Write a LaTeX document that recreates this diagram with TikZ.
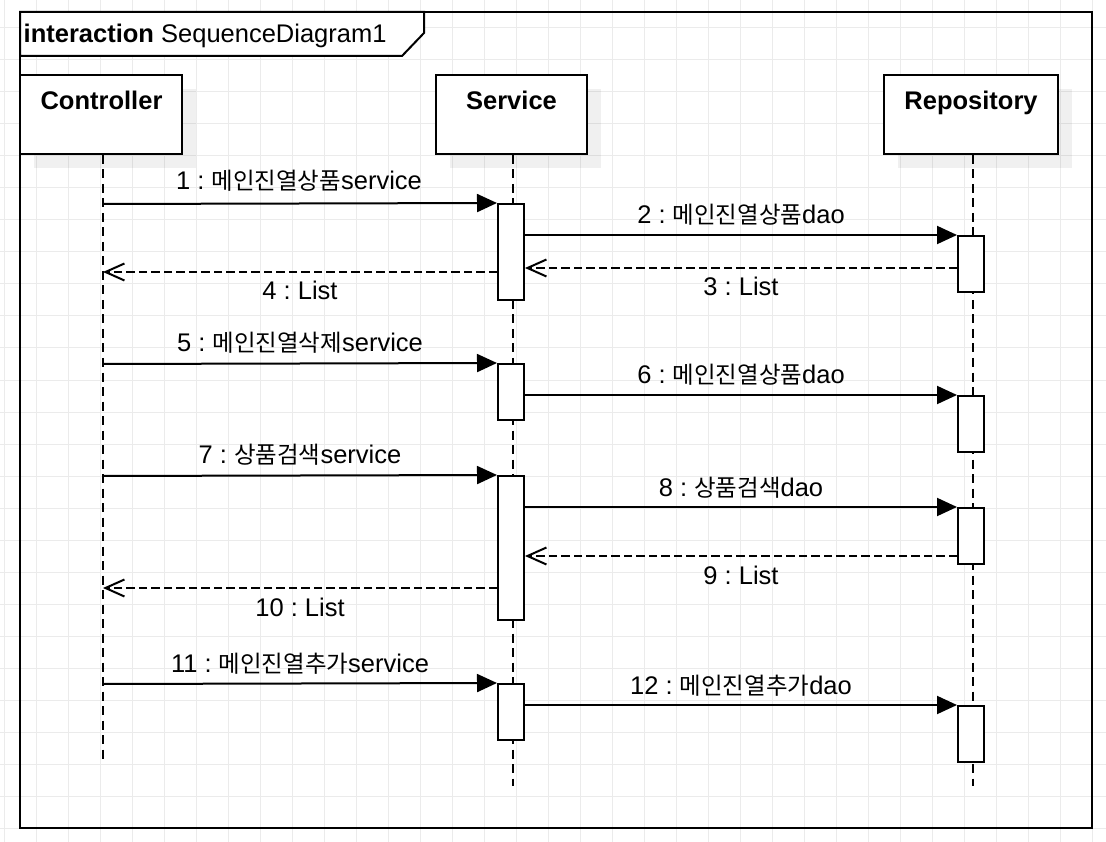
\documentclass[tikz,border=0pt]{standalone}
\usepackage{fontspec}
\setmainfont{Liberation Sans}
\newfontfamily\krfont[Scale=0.92]{Noto Sans CJK KR}
\newcommand{\kr}[1]{{\krfont #1}}
\usetikzlibrary{arrows.meta}
\definecolor{gridc}{RGB}{235,235,235}
\frenchspacing
\tikzset{
  gridline/.style={draw=gridc, line width=1pt},
  frameline/.style={draw=black, line width=2pt},
  headbox/.style={draw=black, line width=2pt, fill=white, rectangle, inner sep=0pt, minimum height=79pt},
  headtext/.style={font=\fontsize{25.5}{30}\selectfont\bfseries, inner sep=0pt, anchor=base},
  shadowbox/.style={fill=black, opacity=0.06},
  lifeline/.style={draw=black, line width=2pt, dash pattern=on 9pt off 5.5pt},
  actbox/.style={draw=black, line width=2pt, fill=white, rectangle, inner sep=0pt, minimum width=26pt},
  msg/.style={draw=black, line width=2pt, -{Triangle[length=20pt,width=18pt]}},
  ret/.style={draw=black, line width=2pt, dash pattern=on 8.5pt off 4pt, -{Straight Barb[length=19pt,width=17pt,line width=2pt]}},
  lbl/.style={font=\fontsize{25.5}{30}\selectfont, inner sep=0pt, anchor=base},
}
\begin{document}
\frenchspacing
\begin{tikzpicture}[x=1pt,y=-1pt]
\useasboundingbox (0,0) rectangle (1106,842);
\fill[white] (0,0) rectangle (1106,842);
% grid
\foreach \x in {4,36,...,1100} \draw[gridline] (\x,0) -- (\x,842);
\foreach \y in {28,60,...,840} \draw[gridline] (0,\y) -- (1106,\y);
% frame
\draw[frameline] (20,12) rectangle (1092,828);
\draw[frameline, fill=white] (20,12) -- (424,12) -- (424,33) -- (402,56) -- (20,56) -- cycle;
\node[anchor=base west, inner sep=0pt, font=\fontsize{25.5}{30}\selectfont] (title) at (23.5,42.5) {\textbf{interaction} SequenceDiagram1};
% shadows
\fill[shadowbox] (34,89) rectangle (196,168);
\fill[shadowbox] (450,89) rectangle (601,168);
\fill[shadowbox] (898,89) rectangle (1072,168);
% header boxes
\node[headbox, minimum width=162pt] (ctrl) at (101,114.5) {};
\node[headbox, minimum width=151pt] (svc) at (511.5,114.5) {};
\node[headbox, minimum width=174pt] (repo) at (971,114.5) {};
\node[headtext] (ctrlt) at (101.5,110) {Controller};
\node[headtext] (svct) at (511.5,110) {Service};
\node[headtext] (repot) at (971,110) {Repository};
% lifeline ends
\coordinate (ctrlend) at (103,762);
\coordinate (svcend) at (512.5,786);
\coordinate (repoend) at (973,786);
\draw[lifeline] (ctrl.south -| ctrlend) -- (ctrlend);
\draw[lifeline] (svc.south -| svcend) -- (svcend);
\draw[lifeline] (repo.south -| repoend) -- (repoend);
% activations
\node[actbox, minimum height=96pt] (a1) at (511,252) {};
\node[actbox, minimum height=56pt] (a2) at (511,392) {};
\node[actbox, minimum height=144pt] (a3) at (511,548) {};
\node[actbox, minimum height=56pt] (a4) at (511,712) {};
\node[actbox, minimum height=56pt] (r1) at (971,264) {};
\node[actbox, minimum height=56pt] (r2) at (971,424) {};
\node[actbox, minimum height=56pt] (r3) at (971,536) {};
\node[actbox, minimum height=56pt] (r4) at (971,734) {};
% message coordinates
\coordinate (c1) at (103,204);
\coordinate (c4) at (103,272);
\coordinate (c5) at (103,364);
\coordinate (c7) at (103,476);
\coordinate (c10) at (103,588);
\coordinate (c11) at (103,684);
\coordinate (y3) at (0,268);
\coordinate (y9) at (0,556);
% messages
\draw[msg] (c1) -- (a1.north west);
\draw[msg] (a1.east |- r1.north) -- (r1.north west);
\draw[ret] (r1.west |- y3) -- (a1.east |- y3);
\draw[ret] (a1.west |- c4) -- (c4);
\draw[msg] (c5) -- (a2.north west);
\draw[msg] (a2.east |- r2.north) -- (r2.north west);
\draw[msg] (c7) -- (a3.north west);
\draw[msg] (a3.east |- r3.north) -- (r3.north west);
\draw[ret] (r3.west |- y9) -- (a3.east |- y9);
\draw[ret] (a3.west |- c10) -- (c10);
\draw[msg] (c11) -- (a4.north west);
\draw[msg] (a4.east |- r4.north) -- (r4.north west);
% labels
\node[lbl] (l1) at (299,189.5) {1 : \kr{메인진열상품}service};
\node[lbl] (l2) at (741,224) {2 : \kr{메인진열상품}dao};
\node[lbl] (l3) at (741,296) {3 : List};
\node[lbl] (l4) at (300,300) {4 : List};
\node[lbl] (l5) at (300,352) {5 : \kr{메인진열삭제}service};
\node[lbl] (l6) at (741,384) {6 : \kr{메인진열상품}dao};
\node[lbl] (l7) at (300,463.5) {7 : \kr{상품검색}service};
\node[lbl] (l8) at (741,496) {8 : \kr{상품검색}dao};
\node[lbl] (l9) at (741,584) {9 : List};
\node[lbl] (l10) at (300,616) {10 : List};
\node[lbl] (l11) at (300,672) {11 : \kr{메인진열추가}service};
\node[lbl] (l12) at (741,694) {12 : \kr{메인진열추가}dao};
\end{tikzpicture}
\end{document}
